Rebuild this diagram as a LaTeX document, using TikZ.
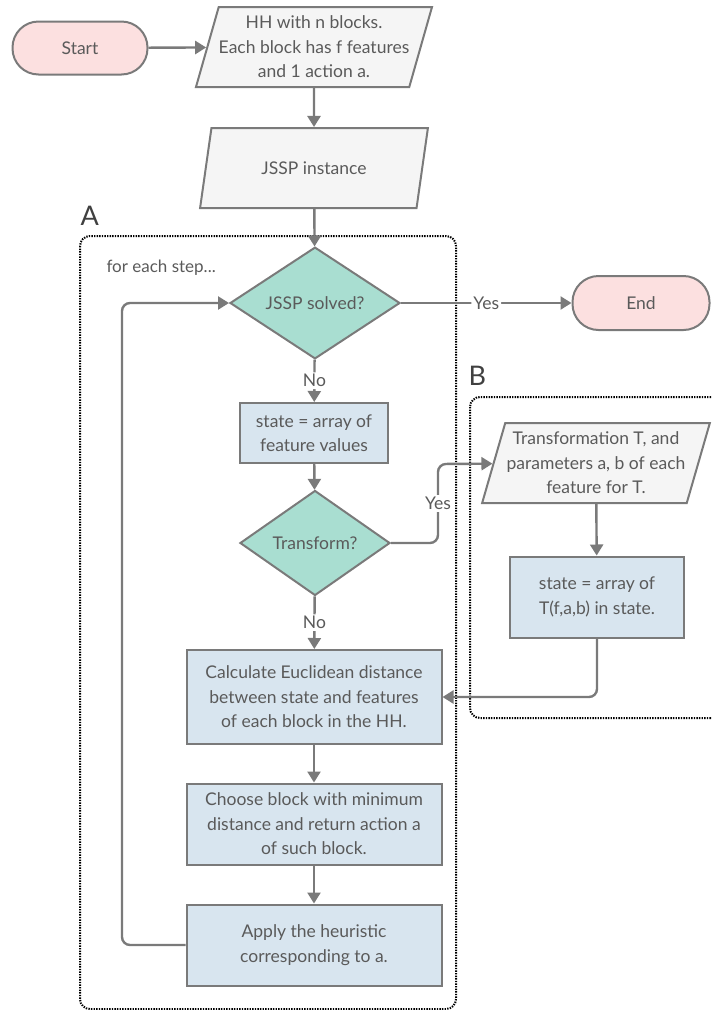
\documentclass[tikz,border=0pt]{standalone}
\usepackage{fontspec}
\setmainfont{Lato}
\usetikzlibrary{shapes.geometric,arrows.meta}
\definecolor{linegray}{HTML}{7A7A7A}
\definecolor{txtgray}{HTML}{5A5A5A}
\definecolor{termpink}{HTML}{FCE0E0}
\definecolor{decteal}{HTML}{A9DED1}
\definecolor{procblue}{HTML}{D8E5EF}
\definecolor{iogray}{HTML}{F5F5F5}
\begin{document}
\begin{tikzpicture}[x=1pt, y=-1pt,
  every node/.style={text=txtgray, font=\fontsize{17.5}{24.5}\selectfont, align=center},
  shapeline/.style={draw=linegray, line width=2pt},
  term/.style={shapeline, fill=termpink, rounded corners=26pt, minimum width=135pt, minimum height=53pt},
  io/.style={shapeline, fill=iogray, trapezium, trapezium left angle=71, trapezium right angle=109,
    trapezium stretches=true, minimum width=228pt, minimum height=80pt, inner xsep=0pt, inner ysep=2pt},
  decision/.style={shapeline, fill=decteal, diamond, inner sep=0pt, minimum width=170pt, minimum height=105pt},
  proc/.style={shapeline, fill=procblue, rectangle, inner sep=2pt},
  link/.style={draw=linegray, line width=2.4pt, rounded corners=8pt, -{Triangle[length=11pt,width=13pt]}},
  lbl/.style={fill=white, inner sep=2pt},
  group/.style={draw=black, line width=2pt, dash pattern=on 1.4pt off 1.2pt, rounded corners=10pt},
  grouptitle/.style={text=black!75, font=\fontsize{27}{27}\selectfont, anchor=west}]
  \useasboundingbox (0,0) rectangle (712,1010);
  % loop of each step (A) and optional transformation (B)
  \draw[group] (80,236) rectangle (456,1009);
  \draw[group] (470,397) rectangle (740,718);
  \node[grouptitle] (titleA) at (77,216) {A};
  \node[grouptitle] (titleB) at (465,376) {B};
  \node[anchor=west, font=\fontsize{17}{17}\selectfont] (eachstep) at (103,268) {for each step...};

  \node[term] (start) at (80,48) {Start};
  \node[io] (hh) at (314,47) {HH with n blocks.\\Each block has f features\\and 1 action a.};
  \node[io] (jssp) at (314,168) {JSSP instance};
  \node[decision] (solved) at (315,303) {JSSP solved?};
  \node[term, minimum width=137pt, minimum height=54pt] (stop) at (641,303) {End};
  \node[proc, minimum width=148pt, minimum height=60pt] (state) at (314,433) {state = array of\\feature values};
  \node[decision, minimum width=150pt] (transform) at (315,543) {Transform?};
  \node[io] (params) at (596,463) {Transformation T, and\\parameters a, b of each\\feature for T.};
  \node[proc, minimum width=174pt, minimum height=81pt] (statet) at (597,597) {state = array of\\T(f,a,b) in state.};
  \node[proc, minimum width=255pt, minimum height=94pt] (calc) at (314,697) {Calculate Euclidean distance\\between state and features\\of each block in the HH.};
  \node[proc, minimum width=255pt, minimum height=81pt] (choose) at (314,824) {Choose block with minimum\\distance and return action a\\of such block.};
  \node[proc, minimum width=255pt, minimum height=81pt] (apply) at (314,945) {Apply the heuristic\\corresponding to a.};
  \coordinate (yesturn) at (438,464);
  \coordinate (loopturn) at (122,303);

  \draw[link] (start) -- (hh);
  \draw[link] (hh) -- (jssp);
  \draw[link] (jssp) -- (solved);
  \draw[link] (solved) -- node[lbl] {Yes} (stop);
  \draw[link] (solved) -- node[lbl] {No} (state);
  \draw[link] (state) -- (transform);
  \draw[link] (transform.east) -| node[lbl, pos=0.75] {Yes} (yesturn) -- (params);
  \draw[link] (transform) -- node[lbl] {No} (calc);
  \draw[link] (params) -- (statet);
  \draw[link] (statet.south) |- (calc.east);
  \draw[link] (calc) -- (choose);
  \draw[link] (choose) -- (apply);
  \draw[link] (apply.west) -| (loopturn) -- (solved.west);
\end{tikzpicture}
\end{document}
